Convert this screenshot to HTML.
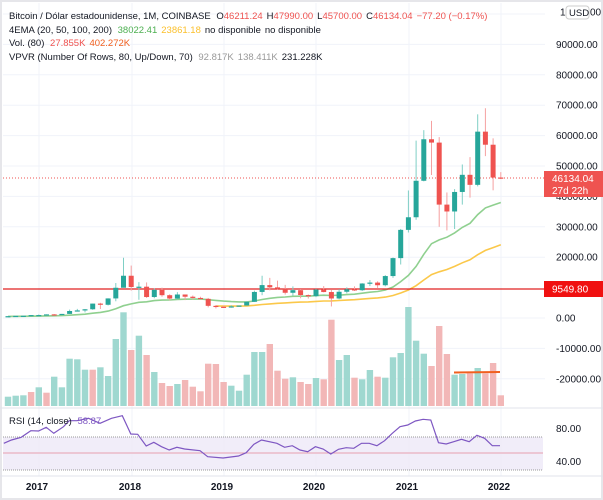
<!DOCTYPE html>
<html><head><meta charset="utf-8"><style>
html,body{margin:0;padding:0;background:#fff;}
svg{display:block;font-family:"Liberation Sans",sans-serif;}
</style></head><body>
<svg id="s" width="603" height="500" xmlns="http://www.w3.org/2000/svg"></svg>
<script>
const S=document.getElementById('s');let h='';
h+='<rect x="0" y="0" width="603" height="500" fill="#fff"/>';
h+='<rect x="0.5" y="0.5" width="602" height="499" fill="none" stroke="#e6e6ea" stroke-width="3"/>';
const Y=p=>318-p*0.00304;
const gx=[39,132,224,316,409,501];
gx.forEach(x=>h+=`<line x1="${x}" y1="3" x2="${x}" y2="476" stroke="#f0f3fa"/>`);
[100000,90000,80000,70000,60000,50000,40000,30000,20000,0,-10000,-20000].forEach(v=>{const y=Y(v);h+=`<line x1="3" y1="${y}" x2="545" y2="${y}" stroke="#f0f3fa"/>`;});
h+='<rect x="3" y="437" width="540" height="33" fill="#ede8f7" opacity="0.8"/>';
h+='<line x1="3" y1="437" x2="543" y2="437" stroke="#999" stroke-dasharray="1,1"/>';
h+='<line x1="3" y1="470" x2="543" y2="470" stroke="#999" stroke-dasharray="1,1"/>';
h+='<line x1="3" y1="453" x2="543" y2="453" stroke="#e8a0b0"/>';
h+='<line x1="0" y1="408" x2="603" y2="408" stroke="#e0e3eb"/>';
h+='<line x1="0" y1="476" x2="603" y2="476" stroke="#e0e3eb"/>';
const X=i=>8+i*7.7;
const vt=[440,437,436,426,412,428,380,412,326,328,359,359,352,378,267,187,300,257,315,366,399,408,402,390,410,424,341,342,396,407,422,374,306,306,282,362,386,382,396,402,384,388,209,330,315,383,388,360,380,383,322,309,171,272,311,348,228,312,374,372,370,354,370,339,436];
const vc="tttrtrtttttrttttrtrtrrtrrrrrrtttttrrrtrrtrrttrttrttttttrrrttrtrrr";
vt.forEach((z,i)=>{const x=X(i);const top=250+z/3;const c=vc[i]=='t'?'#9fd8d0':'#f2b7b7';h+=`<rect x="${(x-3.2).toFixed(1)}" y="${top.toFixed(1)}" width="6.4" height="${(406-top).toFixed(1)}" fill="${c}"/>`;});
h+='<line x1="454" y1="372.5" x2="500" y2="372" stroke="#f06020" stroke-width="2"/>';
const D=[[573,628,571,608],[608,737,606,698],[698,755,685,742],[742,975,740,963],
[963,1150,750,970],[970,1200,915,1190],[1190,1300,890,1080],[1080,1350,1070,1350],[1350,2760,1340,2300],[2300,3000,2200,2500],[2500,2950,1830,2870],[2870,4750,2690,4740],[4740,5000,2970,4350],[4350,6470,4110,6440],[6440,11500,5500,9950],[9950,19800,10400,13900],
[13900,17250,9000,10200],[10200,11800,6000,10300],[10300,11700,6600,6900],[6900,9750,6500,9250],[9250,10000,7000,7500],[7500,7800,5800,6400],[6400,8500,6100,7730],[7730,7750,5880,7000],[7000,7400,6100,6600],[6600,7000,6200,6300],[6300,6600,3500,4000],[4000,4250,3150,3700],
[3700,4100,3350,3430],[3430,4200,3400,3820],[3820,4100,3700,4100],[4100,5600,4100,5320],[5320,9000,5300,8570],[8570,13900,7500,10820],[10820,13200,9100,10080],[10080,12300,9400,9600],[9600,10900,7700,8300],[8300,10400,7300,9150],[9150,9500,6500,7550],[7550,7750,6400,7190],
[7190,9600,6850,9350],[9350,10500,8450,8540],[8540,9200,3800,6420],[6420,9470,6150,8630],[8630,10080,8100,9450],[9450,10400,8900,9140],[9140,11450,8900,11350],[11350,12480,10500,11650],[11650,12080,9900,10780],[10780,14100,10400,13800],[13800,19900,13200,19700],[19700,29300,17600,28990],
[28990,41950,28130,33140],[33140,58350,32300,45140],[45140,61790,44950,58800],[58800,64850,47050,57700],[57700,59500,30000,37300],[37300,41300,28800,35040],[35040,42400,29280,41460],[41460,50500,37300,47100],[47100,52900,39600,43800],[43800,67000,43300,61300],[61300,69000,53250,57000],[57000,59100,42000,46200],[46211,47990,45700,46134]];
let e20=520,e50=430;const a20=2/21,a50=2/51;let p20=[],p50=[];
D.forEach((d,i)=>{e20=e20+a20*(d[3]-e20);e50=e50+a50*(d[3]-e50);p20.push([X(i),Y(e20)]);p50.push([X(i),Y(e50)]);});
h+=`<polyline points="${p20.map(p=>p[0].toFixed(1)+','+p[1].toFixed(1)).join(' ')}" fill="none" stroke="#8fd08f" stroke-width="1.6"/>`;
h+=`<polyline points="${p50.slice(27).map(p=>p[0].toFixed(1)+','+p[1].toFixed(1)).join(' ')}" fill="none" stroke="#fbc84a" stroke-width="1.6"/>`;
h+='<line x1="3" y1="289" x2="545" y2="289" stroke="#e02020" stroke-width="1.2"/>';
h+='<line x1="3" y1="178" x2="545" y2="178" stroke="#ef5350" stroke-dasharray="1,2"/>';
D.forEach((d,i)=>{const[o,hi,lo,c]=d;const up=c>=o;const col=up?'#26a69a':'#ef5350';const wc=up?'#7fcfc5':'#f5a0a0';const x=X(i);
h+=`<line x1="${x}" y1="${Y(hi)}" x2="${x}" y2="${Y(lo)}" stroke="${wc}"/>`;
const t=Math.min(Y(o),Y(c)),b=Math.max(Y(o),Y(c));h+=`<rect x="${x-2.5}" y="${t}" width="5" height="${Math.max(b-t,1.2)}" fill="${col}"/>`;});
const R=[[10,130],[30,120],[55,112],[80,92],[100,93],[120,82],[140,100],[165,80],[180,62],[200,62],[230,55],[260,70],[290,55],[318,47],[340,102],[358,103],[380,138],[400,127],[420,140],[440,150],[460,142],[480,147],[520,152],[540,170],[580,174],[620,168],[640,158],[660,133],[680,120],[720,130],[740,142],[760,137],[780,150],[800,155],[820,140],[840,147],[860,162],[880,148],[900,143],[920,145],[940,130],[960,130],[980,137],[1000,122],[1020,100],[1040,80],[1060,75],[1080,63],[1100,58],[1120,60],[1140,128],[1160,132],[1180,125],[1200,118],[1220,125],[1240,106],[1260,115],[1280,137],[1300,137]];
h+=`<polyline points="${R.map(p=>(p[0]/2.6).toFixed(1)+','+(400+p[1]/3).toFixed(1)).join(' ')}" fill="none" stroke="#7e57c2" stroke-width="1.2"/>`;
const AL=[[90000,'90000.00'],[80000,'80000.00'],[70000,'70000.00'],[60000,'60000.00'],[50000,'50000.00'],[40000,'40000.00'],[30000,'30000.00'],[20000,'20000.00'],[0,'0.00'],[-10000,'-10000.00'],[-20000,'-20000.00']];
AL.forEach(a=>h+=`<text x="556" y="${Y(a[0])+3.5}" font-size="10" fill="#131722">${a[1]}</text>`);
h+='<text x="560" y="15.5" font-size="10" fill="#131722">10</text><rect x="566" y="6" width="23" height="13" rx="3" fill="#fff" stroke="#ccc"/><text x="569" y="16" font-size="9.5" fill="#131722">USD</text><text x="590" y="15.5" font-size="10" fill="#131722">00</text>';
h+='<rect x="544" y="171" width="59" height="26" fill="#ef5350"/><text x="552" y="182" font-size="10" fill="#fff">46134.04</text><text x="552" y="194" font-size="10" fill="#fff">27d 22h</text>';
h+='<rect x="544" y="281" width="59" height="16" fill="#f01010"/><text x="552" y="292.5" font-size="10" fill="#fff">9549.80</text>';
h+='<text x="556" y="432" font-size="10" fill="#131722">80.00</text><text x="556" y="465" font-size="10" fill="#131722">40.00</text>';
['2017','2018','2019','2020','2021','2022'].forEach((t,i)=>h+=`<text x="${gx[i]-2}" y="490" font-size="10" font-weight="bold" text-anchor="middle" fill="#131722">${t}</text>`);
h+='<text x="9" y="19" font-size="9.5" fill="#131722">Bitcoin / Dólar estadounidense, 1M, COINBASE <tspan dx="3">O</tspan><tspan fill="#ef5350">46211.24</tspan><tspan dx="4">H</tspan><tspan fill="#ef5350">47990.00</tspan><tspan dx="4">L</tspan><tspan fill="#ef5350">45700.00</tspan><tspan dx="4">C</tspan><tspan fill="#ef5350">46134.04</tspan><tspan dx="4" fill="#ef5350">−77.20 (−0.17%)</tspan></text>';
h+='<text x="9" y="33" font-size="9.5" fill="#131722">4EMA (20, 50, 100, 200) <tspan dx="3" fill="#4caf50">38022.41</tspan><tspan dx="4" fill="#fbc02d">23861.18</tspan><tspan dx="4">no disponible</tspan><tspan dx="4">no disponible</tspan></text>';
h+='<text x="9" y="46" font-size="9.5" fill="#131722">Vol. (80) <tspan dx="3" fill="#ef5350">27.855K</tspan><tspan dx="4" fill="#f06020">402.272K</tspan></text>';
h+='<text x="9" y="60" font-size="9.5" fill="#131722">VPVR (Number Of Rows, 80, Up/Down, 70) <tspan dx="3" fill="#999">92.817K</tspan><tspan dx="4" fill="#999">138.411K</tspan><tspan dx="4">231.228K</tspan></text>';
h+='<text x="9" y="424" font-size="9.5" fill="#131722">RSI (14, close) <tspan dx="3" fill="#7e57c2">58.87</tspan></text>';
S.innerHTML=h;
</script>
</body></html>
